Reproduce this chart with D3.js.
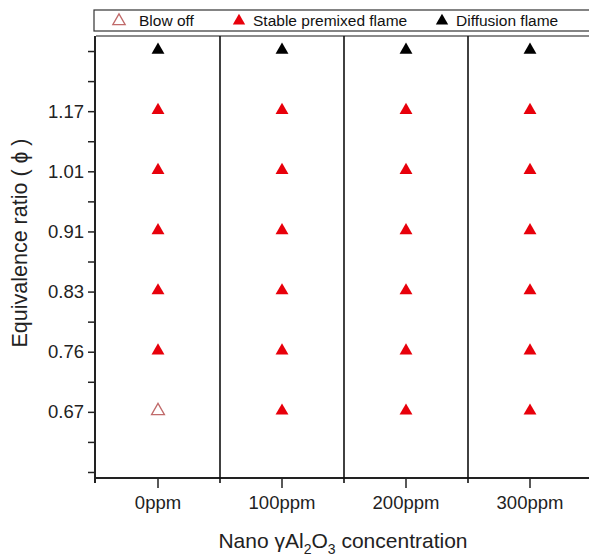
<!DOCTYPE html>
<html>
<head>
<meta charset="utf-8">
<script src="https://cdn.jsdelivr.net/npm/d3@7"></script>
<style>
  body { margin: 0; background: #fff; }
  svg { display: block; font-family: "Liberation Sans", Arial, sans-serif; }
</style>
</head>
<body>
<svg id="chart" width="589" height="558"></svg>
<script>
// categories on the x axis
const concentrations = ['0ppm', '100ppm', '200ppm', '300ppm'];
// rows on the y axis, top to bottom; first row is the diffusion flame row (no label)
const rows = ['', '1.17', '1.01', '0.91', '0.83', '0.76', '0.67'];
// flame state per concentration, per row (same order as rows)
const flameState = {
  '0ppm':   ['diffusion', 'stable', 'stable', 'stable', 'stable', 'stable', 'blowoff'],
  '100ppm': ['diffusion', 'stable', 'stable', 'stable', 'stable', 'stable', 'stable'],
  '200ppm': ['diffusion', 'stable', 'stable', 'stable', 'stable', 'stable', 'stable'],
  '300ppm': ['diffusion', 'stable', 'stable', 'stable', 'stable', 'stable', 'stable']
};
const legendItems = [
  { key: 'blowoff', label: 'Blow off' },
  { key: 'stable', label: 'Stable premixed flame' },
  { key: 'diffusion', label: 'Diffusion flame' }
];

const svg = d3.select('#chart');
const m = { left: 96, right: 592, top: 36, bottom: 478 };

// x: one band per concentration
const x = d3.scaleBand().domain(concentrations).range([m.left, m.right]);
// y: half-step index scale, row i sits at index 2*i
const y = d3.scaleLinear().domain([-0.5, 14.2]).range([m.top, m.bottom]);

const styleOf = {
  blowoff:   { fill: 'none', stroke: '#c06a6a' },
  stable:    { fill: '#e8000b', stroke: 'none' },
  diffusion: { fill: '#000', stroke: 'none' }
};
const tri = d3.symbol().type(d3.symbolTriangle).size(72);

// plot frame top
svg.append('line')
  .attr('x1', m.left).attr('x2', 589)
  .attr('y1', m.top).attr('y2', m.top)
  .attr('stroke', '#8a8a8a').attr('stroke-width', 2);

// y axis: ticks at every half step, labels on the data rows
const yTicks = d3.range(0, 15);
const yAxis = d3.axisLeft(y)
  .tickValues(yTicks)
  .tickSize(8)
  .tickFormat(d => (d % 2 === 0 && d / 2 < rows.length) ? rows[d / 2] : '');
const gy = svg.append('g').attr('transform', `translate(${m.left},0)`).call(yAxis);
gy.select('.domain').remove();
gy.selectAll('.tick line').attr('stroke', '#222').attr('stroke-width', 1.5);
gy.selectAll('.tick text')
  .attr('x', -12)
  .attr('fill', '#222')
  .style('font-size', '18.5px');
svg.append('line')
  .attr('x1', m.left - 1).attr('x2', m.left - 1)
  .attr('y1', m.top).attr('y2', m.bottom + 5)
  .attr('stroke', '#222').attr('stroke-width', 2);

// x axis: short ticks at centers
const xAxis = d3.axisBottom(x).tickSize(10);
const gx = svg.append('g').attr('transform', `translate(0,${m.bottom})`).call(xAxis);
gx.select('.domain').remove();
gx.selectAll('.tick line').attr('stroke', '#222').attr('stroke-width', 1.5);
gx.selectAll('.tick text')
  .attr('y', 18)
  .attr('fill', '#222')
  .style('font-size', '18.5px');
svg.append('line')
  .attr('x1', m.left - 2).attr('x2', 589)
  .attr('y1', m.bottom).attr('y2', m.bottom)
  .attr('stroke', '#222').attr('stroke-width', 2);

// dividers between categories
svg.append('g').selectAll('line')
  .data(concentrations.slice(1))
  .join('line')
  .attr('x1', d => x(d)).attr('x2', d => x(d))
  .attr('y1', m.top).attr('y2', m.bottom + 5)
  .attr('stroke', '#111').attr('stroke-width', 1.6);

// markers
const points = [];
concentrations.forEach(c => {
  flameState[c].forEach((s, i) => points.push({ c, i, s }));
});
svg.append('g').selectAll('path')
  .data(points)
  .join('path')
  .attr('d', tri)
  .attr('transform', d => `translate(${x(d.c) + x.bandwidth() / 2},${y(d.i * 2) - 1})`)
  .attr('fill', d => styleOf[d.s].fill)
  .attr('stroke', d => styleOf[d.s].stroke)
  .attr('stroke-width', 1.3);

// axis titles
svg.append('text')
  .attr('transform', 'translate(27,243) rotate(-90)')
  .attr('text-anchor', 'middle')
  .attr('fill', '#222')
  .style('font-size', '21.5px')
  .text('Equivalence ratio ( ɸ )');

const xt = svg.append('text')
  .attr('x', 343).attr('y', 548)
  .attr('text-anchor', 'middle')
  .attr('fill', '#222')
  .style('font-size', '21px');
xt.append('tspan').text('Nano  γAl');
xt.append('tspan').attr('dy', 6).style('font-size', '14px').text('2');
xt.append('tspan').attr('dy', -6).text('O');
xt.append('tspan').attr('dy', 6).style('font-size', '14px').text('3');
xt.append('tspan').attr('dy', -6).text(' concentration');

// legend
const lg = svg.append('g');
lg.append('rect')
  .attr('x', 94).attr('y', 10)
  .attr('width', 520).attr('height', 21)
  .attr('fill', '#fff')
  .attr('stroke', '#333').attr('stroke-width', 1.2);
const legendX = [119, 239, 442];
const items = lg.selectAll('g.item')
  .data(legendItems)
  .join('g')
  .attr('class', 'item')
  .attr('transform', (d, i) => `translate(${legendX[i]},21)`);
items.append('path')
  .attr('d', d3.symbol().type(d3.symbolTriangle).size(66))
  .attr('fill', d => styleOf[d.key].fill)
  .attr('stroke', d => styleOf[d.key].stroke)
  .attr('stroke-width', 1.3);
items.append('text')
  .attr('x', (d, i) => i === 0 ? 20 : 14)
  .attr('y', 5)
  .attr('fill', '#111')
  .style('font-size', '15.5px')
  .text(d => d.label);
</script>
</body>
</html>
